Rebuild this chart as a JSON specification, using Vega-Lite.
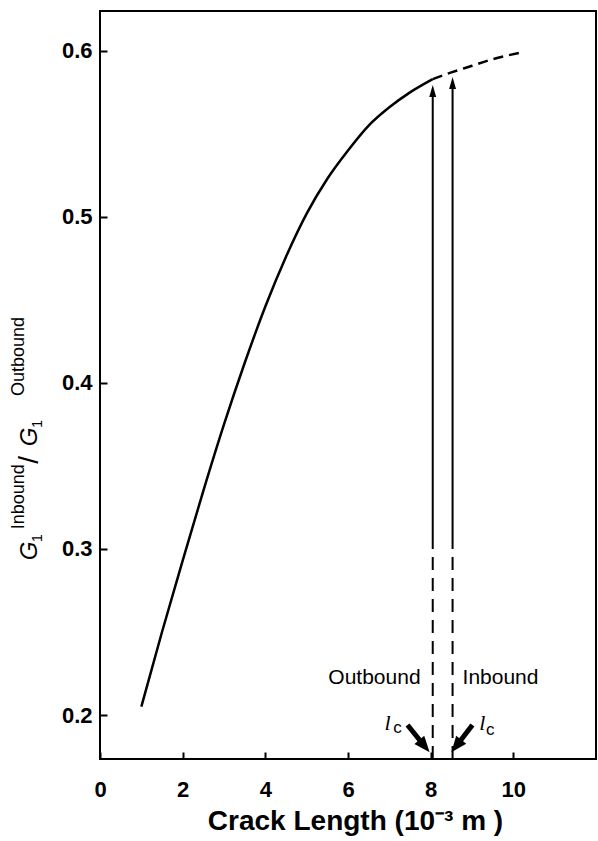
{
  "$schema": "https://vega.github.io/schema/vega-lite/v6.json",
  "width": 496,
  "height": 748,
  "autosize": {"type": "none"},
  "padding": {"left": 100, "top": 11, "right": 2, "bottom": 82},
  "background": "white",
  "config": {
    "view": {"stroke": "black", "strokeWidth": 2},
    "axis": {"grid": false, "domain": false, "tickColor": "black", "tickWidth": 2, "labelColor": "black", "titleColor": "black", "labelFont": "Liberation Sans", "labelFontWeight": "bold", "labelFontSize": 22, "titleFont": "Liberation Sans", "labelFlush": false}
  },
  "datasets": {
    "solid": [
      {"x": 1.0, "y": 0.205}, {"x": 1.5, "y": 0.25}, {"x": 2.0, "y": 0.293}, {"x": 2.5, "y": 0.335},
      {"x": 3.0, "y": 0.375}, {"x": 3.5, "y": 0.412}, {"x": 4.0, "y": 0.446}, {"x": 4.5, "y": 0.476},
      {"x": 5.0, "y": 0.502}, {"x": 5.5, "y": 0.523}, {"x": 6.0, "y": 0.540}, {"x": 6.5, "y": 0.555},
      {"x": 7.0, "y": 0.566}, {"x": 7.5, "y": 0.575}, {"x": 8.05, "y": 0.583}
    ],
    "dashed": [
      {"x": 8.05, "y": 0.583}, {"x": 8.5, "y": 0.587}, {"x": 9.0, "y": 0.591}, {"x": 9.5, "y": 0.595}, {"x": 10.2, "y": 0.599}
    ],
    "vsolid": [
      {"x": 8.05, "y": 0.30, "y2": 0.576},
      {"x": 8.53, "y": 0.30, "y2": 0.581}
    ],
    "vdashed": [
      {"x": 8.05, "y": 0.1735, "y2": 0.30},
      {"x": 8.53, "y": 0.1735, "y2": 0.30}
    ],
    "heads": [
      {"x": 8.05, "y": 0.5758},
      {"x": 8.53, "y": 0.5806}
    ],
    "bigarrows": [
      {"x": 7.44, "y": 0.194, "x2": 7.85, "y2": 0.1813},
      {"x": 9.01, "y": 0.194, "x2": 8.62, "y2": 0.1813}
    ],
    "bigheads": [
      {"x": 7.85, "y": 0.1813, "angle": 140},
      {"x": 8.62, "y": 0.1813, "angle": 218}
    ],
    "annot": [
      {"x": 6.64, "y": 0.2223, "text": "Outbound"},
      {"x": 9.69, "y": 0.2223, "text": "Inbound"}
    ],
    "ell": [
      {"x": 6.96, "y": 0.1952, "text": "l"},
      {"x": 9.25, "y": 0.1952, "text": "l"}
    ],
    "csub": [
      {"x": 7.20, "y": 0.1922, "text": "c"},
      {"x": 9.44, "y": 0.1910, "text": "c"}
    ],
    "ytG": [
      {"x": -1.69, "y": 0.2988, "text": "G"},
      {"x": -1.69, "y": 0.3675, "text": "G"}
    ],
    "yt1": [
      {"x": -1.50, "y": 0.3066, "text": "1"},
      {"x": -1.50, "y": 0.3753, "text": "1"}
    ],
    "ytsup": [
      {"x": -1.95, "y": 0.3315, "text": "Inbound"},
      {"x": -1.95, "y": 0.4159, "text": "Outbound"}
    ],
    "ytslash": [
      {"x": -1.69, "y": 0.3536, "text": "/"}
    ]
  },
  "encoding": {
    "x": {"field": "x", "type": "quantitative", "scale": {"domain": [0, 12], "nice": false, "zero": false},
      "axis": {"values": [0, 2, 4, 6, 8, 10], "tickSize": -7, "labelPadding": 27, "title": "Crack Length  (10⁻³  m )", "titleFontSize": 28, "titleFontWeight": "bold", "titlePadding": 7, "titleX": 255}},
    "y": {"field": "y", "type": "quantitative", "scale": {"domain": [0.1735, 0.624], "nice": false, "zero": false},
      "axis": {"values": [0.2, 0.3, 0.4, 0.5, 0.6], "format": ".1f", "tickSize": -7, "labelPadding": 15, "title": null}}
  },
  "layer": [
    {"data": {"name": "solid"}, "mark": {"type": "line", "color": "black", "strokeWidth": 2.5, "interpolate": "monotone"}},
    {"data": {"name": "dashed"}, "mark": {"type": "line", "color": "black", "strokeWidth": 2.5, "strokeDash": [10, 6], "interpolate": "monotone"}},
    {"data": {"name": "vsolid"}, "mark": {"type": "rule", "color": "black", "strokeWidth": 2}, "encoding": {"y2": {"field": "y2"}}},
    {"data": {"name": "vdashed"}, "mark": {"type": "rule", "color": "black", "strokeWidth": 2, "strokeDash": [13, 8]}, "encoding": {"y2": {"field": "y2"}}},
    {"data": {"name": "heads"}, "mark": {"type": "point", "shape": "M-0.58,1L0,-1L0.58,1Z", "size": 144, "filled": true, "color": "black", "opacity": 1}},
    {"data": {"name": "bigarrows"}, "mark": {"type": "rule", "color": "black", "strokeWidth": 5}, "encoding": {"x2": {"field": "x2"}, "y2": {"field": "y2"}}},
    {"data": {"name": "bigheads"}, "mark": {"type": "point", "shape": "M-0.8,1L0,-1L0.8,1Z", "size": 256, "filled": true, "color": "black", "opacity": 1}, "encoding": {"angle": {"field": "angle", "type": "quantitative", "scale": null}}},
    {"data": {"name": "annot"}, "mark": {"type": "text", "font": "Liberation Sans", "fontSize": 21, "color": "black", "align": "center", "baseline": "middle"}, "encoding": {"text": {"field": "text"}}},
    {"data": {"name": "ell"}, "mark": {"type": "text", "font": "Liberation Serif", "fontStyle": "italic", "fontSize": 22, "color": "black", "align": "center", "baseline": "middle"}, "encoding": {"text": {"field": "text"}}},
    {"data": {"name": "csub"}, "mark": {"type": "text", "font": "Liberation Sans", "fontSize": 17, "color": "black", "align": "center", "baseline": "middle"}, "encoding": {"text": {"field": "text"}}},
    {"data": {"name": "ytG"}, "mark": {"type": "text", "font": "Liberation Sans", "fontStyle": "italic", "fontSize": 24, "color": "black", "align": "center", "baseline": "middle", "angle": 270}, "encoding": {"text": {"field": "text"}}},
    {"data": {"name": "yt1"}, "mark": {"type": "text", "font": "Liberation Sans", "fontSize": 14, "color": "black", "align": "center", "baseline": "middle", "angle": 270}, "encoding": {"text": {"field": "text"}}},
    {"data": {"name": "ytsup"}, "mark": {"type": "text", "font": "Liberation Sans", "fontSize": 18, "color": "black", "align": "center", "baseline": "middle", "angle": 270}, "encoding": {"text": {"field": "text"}}},
    {"data": {"name": "ytslash"}, "mark": {"type": "text", "font": "Liberation Sans", "fontSize": 28, "color": "black", "align": "center", "baseline": "middle", "angle": 270}, "encoding": {"text": {"field": "text"}}}
  ]
}
